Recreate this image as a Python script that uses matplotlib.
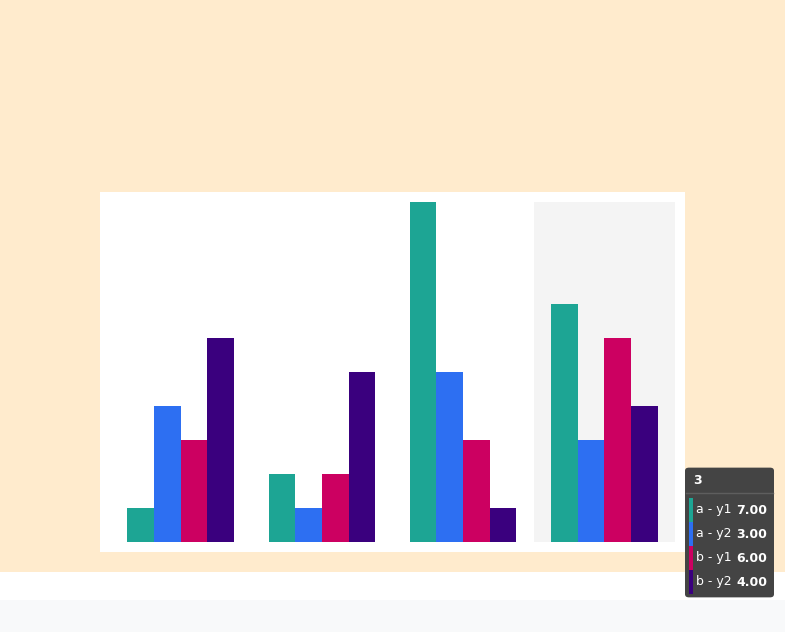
import matplotlib
matplotlib.use("Agg")
import matplotlib.pyplot as plt
from matplotlib.patches import Rectangle, FancyBboxPatch
from matplotlib.lines import Line2D
import numpy as np

categories = ["0", "1", "2", "3"]
series_names = ["a - y1", "a - y2", "b - y1", "b - y2"]
a_y1 = [1, 2, 10, 7]
a_y2 = [4, 1, 5, 3]
b_y1 = [3, 2, 3, 6]
b_y2 = [6, 5, 1, 4]
series_values = [a_y1, a_y2, b_y1, b_y2]
colors = ["#1da594", "#2d6ff2", "#cc0061", "#3a007e"]
hover_index = 3

W, H = 785, 632
fig = plt.figure(figsize=(W / 100, H / 100), dpi=100)
fig.patch.set_facecolor("white")

def fx(px):
    return px / W

def fy(py):
    return 1 - py / H

# backgrounds
fig.patches.append(Rectangle((0, fy(572)), 1, 572 / H, transform=fig.transFigure,
                             facecolor="#ffebcd", edgecolor="none", zorder=-3))
fig.patches.append(Rectangle((0, 0), 1, 32 / H, transform=fig.transFigure,
                             facecolor="#f8f9fa", edgecolor="none", zorder=-3))
fig.patches.append(Rectangle((fx(100), fy(552)), 585 / W, 360 / H, transform=fig.transFigure,
                             facecolor="white", edgecolor="none", zorder=-2))

ax = fig.add_axes([fx(110), fy(542), 565 / W, 340 / H])
ax.set_zorder(1)
ax.set_facecolor("none")
for s in ax.spines.values():
    s.set_visible(False)
ax.set_xticks([])
ax.set_yticks([])
ax.set_xlim(-0.5, len(categories) - 0.5)
ax.set_ylim(0, 10)

ax.axvspan(hover_index - 0.5, hover_index + 0.5, color="#f4f4f4", zorder=0, lw=0)

x = np.arange(len(categories))
bw = 0.1885
for i, (vals, c) in enumerate(zip(series_values, colors)):
    ax.bar(x + (i - 1.5) * bw, vals, width=bw, color=c, zorder=2, linewidth=0)

# tooltip
tip = FancyBboxPatch((fx(685) + 0.002, fy(598) + 0.003), 89 / W - 0.004, 131 / H - 0.006,
                     boxstyle="round,pad=0.002,rounding_size=0.005",
                     transform=fig.transFigure, facecolor="#444444", edgecolor="none",
                     zorder=10)
fig.patches.append(tip)
fig.text(fx(693), fy(480), categories[hover_index], color="white", fontsize=9,
         fontweight="bold", va="center", ha="left", zorder=11)
fig.lines.append(Line2D([fx(686), fx(773)], [fy(493), fy(493)], transform=fig.transFigure,
                        color="#5e5e5e", lw=1, zorder=11))
row_y = [510, 534, 558, 582]
for name, vals, c, ry in zip(series_names, series_values, colors, row_y):
    fig.patches.append(Rectangle((fx(689), fy(ry + 12)), 3.5 / W, 24 / H,
                                 transform=fig.transFigure, facecolor=c,
                                 edgecolor="none", zorder=11))
    fig.text(fx(696), fy(ry), name, color="white", fontsize=9, va="center",
             ha="left", zorder=12)
    fig.text(fx(767), fy(ry), f"{vals[hover_index]:.2f}", color="white", fontsize=9,
             fontweight="bold", va="center", ha="right", zorder=12)

fig.savefig("out.png", dpi=100)
